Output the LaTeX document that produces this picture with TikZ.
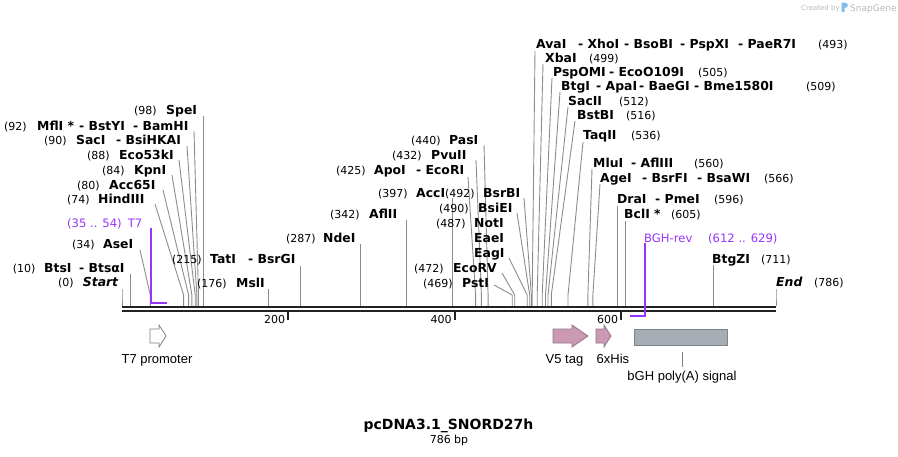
\documentclass[tikz,border=0pt]{standalone}
\usepackage{fontspec}
\setmainfont{DejaVu Sans}
\newfontfamily\featfont{Liberation Sans}
\definecolor{sitegray}{HTML}{8C8C8C}
\definecolor{primcol}{HTML}{9933FF}
\definecolor{bbcol}{HTML}{222222}
\definecolor{pinkf}{HTML}{CC99B3}
\definecolor{pinkd}{HTML}{8F7A86}
\definecolor{greyf}{HTML}{A6ACB3}
\definecolor{greyd}{HTML}{7D848B}
\definecolor{featline}{HTML}{808080}
\definecolor{logoblue}{HTML}{7DBFEA}
\definecolor{logotext}{HTML}{B8B8B8}
\begin{document}
\begin{tikzpicture}[x=1pt,y=-1pt,
  enz/.style={font=\bfseries\fontsize{12.4}{14}\selectfont, anchor=base west, inner sep=0pt},
  enzi/.style={enz, font=\bfseries\itshape\fontsize{12.4}{14}\selectfont},
  num/.style={font=\fontsize{11}{13}\selectfont, anchor=base west, inner sep=0pt},
  prim/.style={font=\fontsize{11.6}{14}\selectfont, text=primcol, anchor=base west, inner sep=0pt},
  site/.style={draw=sitegray, line width=0.9pt},
  primline/.style={draw=primcol, line width=2pt},
  ticklab/.style={font=\fontsize{11}{13}\selectfont, anchor=base east, inner sep=0pt},
  feat/.style={font=\featfont\fontsize{13}{15}\selectfont, inner sep=0pt},
  pinkarrow/.style={fill=pinkf, draw=pinkd, line width=0.8pt},
  whitearrow/.style={fill=white, draw=featline, line width=0.8pt}
]
\useasboundingbox (0,0) rectangle (898,456);

% ---------- site connectors ----------
\foreach \n/\sx/\px/\py in {
  st/122/122/289, bts/130.3/130.3/274, ase/150.3/140/250,
  hind/183.6/155/204, acc65/188.6/163/190, kpn/191.9/172/175,
  ecofs/195.2/179/160, sac/196.9/187/146, mfl/198.5/194/131,
  spe/203.5/203.5/116, msl/268.4/268.4/289, tat/300.9/300.9/266,
  nde/360.8/360.8/244, afltwo/406.6/406.6/220, acci/452.3/452.3/198,
  apo/475.6/468/177, pvu/481.4/476/160, pas/488.1/484/145,
  pst/512.2/494/285, ecorv/514.7/502/273, eag/527.2/509/258,
  bsie/529.7/517/213, bsrb/531.4/524/198,
  ava/532.2/535/51, xba/537.2/543/64, psp/542.2/552/78,
  btg/545.5/560/92, sactwo/548/568/107, bstb/551.3/575/121,
  taq/568/583/142, mlu/587.9/592/169, age/592.9/600/184,
  dra/617.9/617.9/206, bcl/625.4/625.4/221, btgz/713.6/713.6/265,
  en/776/776/289}
{
  \coordinate (p\n) at (\px,\py);
  \coordinate (k\n) at (\sx,295);
  \coordinate (s\n) at (\sx,306);
  \draw[site] (p\n) -- (k\n) -- (s\n);
}

% ---------- backbone ----------
\coordinate (bbLa) at (122,307.2);
\coordinate (bbRa) at (776,307.2);
\coordinate (bbLb) at (122,311);
\coordinate (bbRb) at (776,311);
\draw[bbcol, line width=2.4pt] (bbLa) -- (bbRa);
\draw[bbcol, line width=2.6pt] (bbLb) -- (bbRb);

% ticks
\foreach \tx/\tl in {288.4/200, 454.8/400, 621.2/600}{
  \coordinate (ta\tl) at (\tx,312);
  \coordinate (tb\tl) at (\tx,320);
  \draw[bbcol, line width=2pt] (ta\tl) -- (tb\tl);
  \node[ticklab] (tl\tl) at (\tx-3,323) {\tl};
}

% ---------- primers ----------
\node[prim] (tsevena) at (67,227) {(35 .. 54)};
\node[prim] (tsevenb) at (127.7,227) {T7};
\coordinate (tsevtop) at (150.5,227.5);
\coordinate (tsevknee) at (150.5,302.5);
\coordinate (tsevend) at (166.5,302.5);
\draw[primline] (tsevtop) -- (tsevknee) -- (tsevend);

\node[prim] (bgha) at (644,242) {BGH-rev};
\node[prim] (bghb) at (708,242) {(612 .. 629)};
\coordinate (bghtop) at (644.5,243);
\coordinate (bghknee) at (644.5,316);
\coordinate (bghend) at (630,316);
\draw[primline] (bghtop) -- (bghknee) -- (bghend);

% ---------- enzyme labels: left ----------
\node[num] (l0a) at (58,286) {(0)};
\node[enzi] (l0b) at (82.7,286) {Start};

\node[num] (l10a) at (12.7,272) {(10)};
\node[enz] (l10b) at (44,272) {BtsI};
\node[enz] (l10c) at (79,272) {- BtsαI};

\node[num] (l34a) at (72,248) {(34)};
\node[enz] (l34b) at (103,248) {AseI};

\node[num] (l74a) at (67,203.3) {(74)};
\node[enz] (l74b) at (98,203.3) {HindIII};

\node[num] (l80a) at (77,189) {(80)};
\node[enz] (l80b) at (109,189) {Acc65I};

\node[num] (l84a) at (102,174) {(84)};
\node[enz] (l84b) at (134,174) {KpnI};

\node[num] (l88a) at (87,159.5) {(88)};
\node[enz] (l88b) at (119,159.5) {Eco53kI};

\node[num] (l90a) at (44,144.5) {(90)};
\node[enz] (l90b) at (76,144.5) {SacI};
\node[enz] (l90c) at (116,144.5) {- BsiHKAI};

\node[num] (l92a) at (4,130) {(92)};
\node[enz] (l92b) at (37,130) {MflI *};
\node[enz] (l92c) at (79,130) {- BstYI};
\node[enz] (l92d) at (133,130) {- BamHI};

\node[num] (l98a) at (134,114.5) {(98)};
\node[enz] (l98b) at (166,114.5) {SpeI};

\node[num] (l176a) at (197,287) {(176)};
\node[enz] (l176b) at (236,287) {MslI};

\node[num] (l215a) at (172,263) {(215)};
\node[enz] (l215b) at (210,263) {TatI};
\node[enz] (l215c) at (248,263) {- BsrGI};

% ---------- enzyme labels: middle ----------
\node[num] (l287a) at (286,242) {(287)};
\node[enz] (l287b) at (323,242) {NdeI};

\node[num] (l342a) at (330,218) {(342)};
\node[enz] (l342b) at (369,218) {AflII};

\node[num] (l397a) at (378,197) {(397)};
\node[enz] (l397b) at (416,197) {AccI};

\node[num] (l425a) at (336,174) {(425)};
\node[enz] (l425b) at (374,174) {ApoI};
\node[enz] (l425c) at (416,174) {- EcoRI};

\node[num] (l432a) at (392,159) {(432)};
\node[enz] (l432b) at (431,159) {PvuII};

\node[num] (l440a) at (411,144) {(440)};
\node[enz] (l440b) at (449,144) {PasI};

\node[num] (l469a) at (423,287) {(469)};
\node[enz] (l469b) at (462,287) {PstI};

\node[num] (l472a) at (414,272) {(472)};
\node[enz] (l472b) at (453,272) {EcoRV};

\node[num] (l487a) at (436,227) {(487)};
\node[enz] (l487b) at (474,227) {NotI};
\node[enz] (l487c) at (474,242) {EaeI};
\node[enz] (l487d) at (474,257) {EagI};

\node[num] (l490a) at (439,212) {(490)};
\node[enz] (l490b) at (478,212) {BsiEI};

\node[num] (l492a) at (445,197) {(492)};
\node[enz] (l492b) at (483,197) {BsrBI};

% ---------- enzyme labels: right ----------
\node[enz] (l493a) at (536,48) {AvaI};
\node[enz] (l493b) at (578,48) {- XhoI};
\node[enz] (l493c) at (624,48) {- BsoBI};
\node[enz] (l493d) at (680,48) {- PspXI};
\node[enz] (l493e) at (738,48) {- PaeR7I};
\node[num] (l493f) at (818,48) {(493)};

\node[enz] (l499a) at (545,62) {XbaI};
\node[num] (l499b) at (589,62) {(499)};

\node[enz] (l505a) at (553,76.5) {PspOMI};
\node[enz] (l505b) at (609,76.5) {- EcoO109I};
\node[num] (l505c) at (698,76.5) {(505)};

\node[enz] (l509a) at (561,90.5) {BtgI};
\node[enz] (l509b) at (596,90.5) {- ApaI};
\node[enz] (l509c) at (639,90.5) {- BaeGI};
\node[enz] (l509d) at (694,90.5) {- Bme1580I};
\node[num] (l509e) at (806,90.5) {(509)};

\node[enz] (l512a) at (568,105) {SacII};
\node[num] (l512b) at (619,105) {(512)};

\node[enz] (l516a) at (577,119) {BstBI};
\node[num] (l516b) at (626,119) {(516)};

\node[enz] (l536a) at (583,139) {TaqII};
\node[num] (l536b) at (631,139) {(536)};

\node[enz] (l560a) at (593,167) {MluI};
\node[enz] (l560b) at (631,167) {- AflIII};
\node[num] (l560c) at (694,167) {(560)};

\node[enz] (l566a) at (600,182) {AgeI};
\node[enz] (l566b) at (642,182) {- BsrFI};
\node[enz] (l566c) at (697,182) {- BsaWI};
\node[num] (l566d) at (764,182) {(566)};

\node[enz] (l596a) at (617,203.5) {DraI};
\node[enz] (l596b) at (655,203.5) {- PmeI};
\node[num] (l596c) at (714,203.5) {(596)};

\node[enz] (l605a) at (624,218.5) {BclI *};
\node[num] (l605b) at (671,218.5) {(605)};

\node[enz] (l711a) at (712,263) {BtgZI};
\node[num] (l711b) at (761,263) {(711)};

\node[enzi] (l786a) at (776,286.5) {End};
\node[num] (l786b) at (814,286.5) {(786)};

% ---------- features ----------
\draw[whitearrow] (150,329) -- (159,329) -- (159,325) -- (166,336) -- (159,347) -- (159,343) -- (150,343) -- cycle;
\node[feat, anchor=base] (ftseven) at (157,363) {T7 promoter};

\draw[pinkarrow] (553,329) -- (572,329) -- (572,325) -- (588,336) -- (572,347) -- (572,343) -- (553,343) -- cycle;
\node[feat, anchor=base] (fvfive) at (564.5,363) {V5 tag};

\draw[pinkarrow] (596,329) -- (604,329) -- (604,325) -- (611,336) -- (604,347) -- (604,343) -- (596,343) -- cycle;
\node[feat, anchor=base west] (fhis) at (596.5,363) {6xHis};

\node[draw=greyd, fill=greyf, line width=0.8pt, minimum width=93pt, minimum height=16pt, inner sep=0pt] (fbgh) at (680.5,337) {};
\coordinate (bghla) at (682,352);
\coordinate (bghlb) at (682,367);
\draw[featline, line width=0.8pt] (bghla) -- (bghlb);
\node[feat, anchor=base] (fbghlab) at (682,380) {bGH poly(A) signal};

% ---------- title ----------
\node[font=\bfseries\fontsize{14}{16}\selectfont, anchor=base, inner sep=0pt] (title) at (448.5,429.5) {pcDNA3.1\_SNORD27h};
\node[font=\fontsize{11}{13}\selectfont, anchor=base, inner sep=0pt] (bp) at (449,443) {786 bp};

% ---------- logo ----------
\node[font=\fontsize{7}{8}\selectfont, text=logotext, anchor=base west, inner sep=0pt] (logoa) at (801,10.5) {Created by};
\fill[logoblue] (841.5,2.5) rectangle (844.5,12) (844.5,2.5) .. controls (849,2.5) and (849,8) .. (844.5,8) -- cycle;
\node[font=\fontsize{9}{10}\selectfont, text=logotext, anchor=base west, inner sep=0pt] (logob) at (850,11) {SnapGene};
\end{tikzpicture}
\end{document}
